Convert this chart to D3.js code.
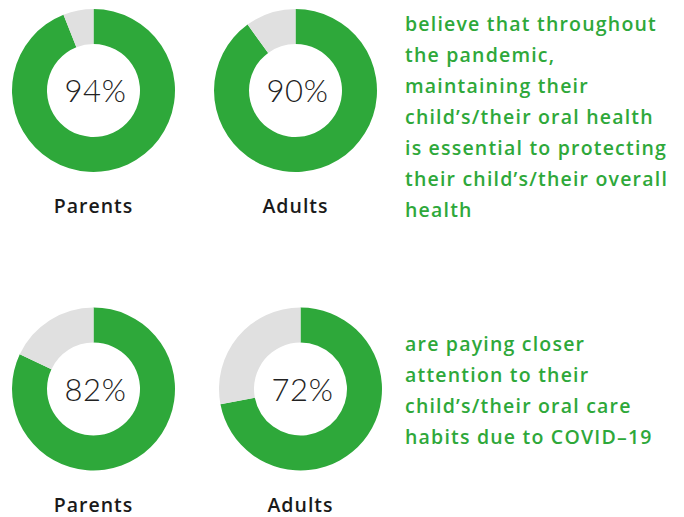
<!DOCTYPE html>
<html><head><meta charset="utf-8">
<script src="https://cdn.jsdelivr.net/npm/d3@7"></script>
<style>html,body{margin:0;padding:0;background:#fff;}</style>
</head><body>
<svg id="chart" width="684" height="517"></svg>
<script>
const groups = ["Parents", "Adults", "Parents", "Adults"];
const percentValues = [94, 90, 82, 72];
const statementTop = ["believe that throughout", "the pandemic,", "maintaining their", "child\u2019s/their oral health", "is essential to protecting", "their child\u2019s/their overall", "health"];
const statementBottom = ["are paying closer", "attention to their", "child\u2019s/their oral care", "habits due to COVID\u201319"];

const green = "#2ea83a", grey = "#e0e0e0";
const svg = d3.select("#chart");
const centers = [[93.5, 90.5], [295.5, 90.5], [93.5, 389], [300.5, 389]];
const rOuter = 81.5, rInner = 46.5;
const pie = d3.pie().sort(null).value(d => d.v);
const arc = d3.arc().innerRadius(rInner).outerRadius(rOuter);

percentValues.forEach((p, i) => {
  const g = svg.append("g").attr("transform", `translate(${centers[i][0]},${centers[i][1]})`);
  const parts = [{k: "yes", v: p}, {k: "no", v: 100 - p}];
  g.selectAll("path").data(pie(parts)).join("path")
    .attr("d", arc).attr("fill", d => d.data.k === "yes" ? green : grey);
  g.append("text").attr("x", 2).attr("y", 11.5).attr("text-anchor", "middle")
    .attr("font-family", "Lato, 'Open Sans', sans-serif").attr("font-weight", 300)
    .attr("font-size", 31).attr("letter-spacing", 0.6).attr("fill", "#222").text(p + "%");
  g.append("text").attr("x", 0).attr("y", i < 2 ? 122.5 : 123).attr("text-anchor", "middle")
    .attr("font-family", "'Open Sans', sans-serif").attr("font-weight", 600)
    .attr("font-size", 19.5).attr("letter-spacing", 1).attr("fill", "#1a1a1a").text(groups[i]);
});

function block(lines, y0) {
  svg.append("g").selectAll("text").data(lines).join("text")
    .attr("x", 405).attr("y", (d, i) => y0 + i * 31)
    .attr("font-family", "'Open Sans', sans-serif").attr("font-weight", 600)
    .attr("font-size", 19.5).attr("letter-spacing", 1.2).attr("fill", green).text(d => d);
}
block(statementTop, 31);
block(statementBottom, 351);
</script>
</body></html>
